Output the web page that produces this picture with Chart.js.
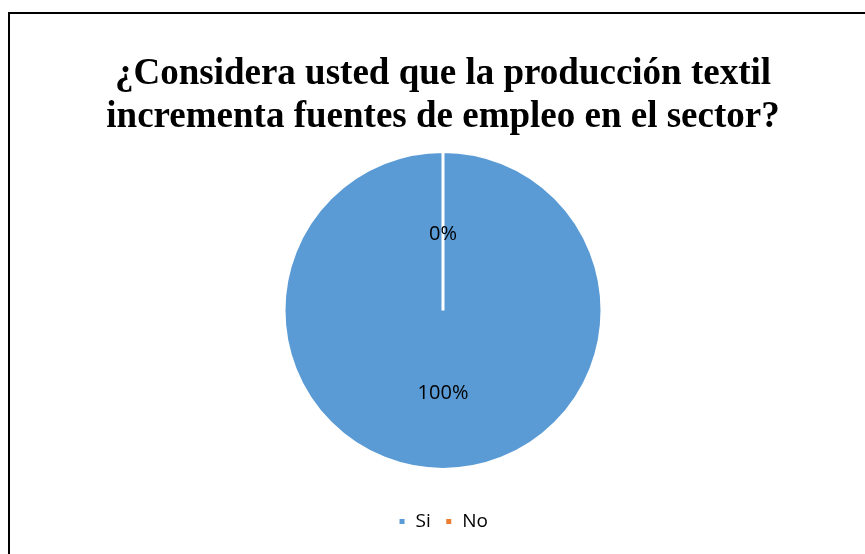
<!DOCTYPE html>
<html>
<head>
<meta charset="utf-8">
<script src="https://cdn.jsdelivr.net/npm/chart.js@4"></script>
<style>
  html, body { margin: 0; padding: 0; background: #fff; }
  #wrap { position: relative; width: 865px; height: 554px; }
</style>
</head>
<body>
<div id="wrap"><canvas id="chart" width="865" height="554"></canvas></div>
<script>
const titleLines = ['¿Considera usted que la producción textil', 'incrementa fuentes de empleo en el sector?'];
const categories = ['Si', 'No'];
const percentages = [100, 0];
const sliceColors = ['#5B9BD5', '#ED7D31'];

// black frame on the left and top edges, as in the source picture
const framePlugin = {
    id: 'frame',
    beforeDraw(chart) {
        const ctx = chart.ctx;
        ctx.save();
        ctx.fillStyle = '#fff';
        ctx.fillRect(0, 0, chart.width, chart.height);
        ctx.strokeStyle = '#000';
        ctx.lineWidth = 2;
        ctx.beginPath();
        ctx.moveTo(9, chart.height);
        ctx.lineTo(9, 13);
        ctx.lineTo(chart.width, 13);
        ctx.stroke();
        ctx.restore();
    }
};

// percentage labels at half radius of each slice
const sliceLabels = {
    id: 'sliceLabels',
    afterDatasetsDraw(chart) {
        const ctx = chart.ctx;
        const meta = chart.getDatasetMeta(0);
        ctx.save();
        ctx.font = '20px "Open Sans"';
        ctx.fillStyle = '#000';
        ctx.textAlign = 'center';
        ctx.textBaseline = 'middle';
        meta.data.forEach((arc, i) => {
            const p = arc.getProps(['x', 'y', 'startAngle', 'endAngle', 'outerRadius']);
            const mid = (p.startAngle + p.endAngle) / 2;
            const r = p.outerRadius / 2;
            ctx.fillText(percentages[i] + '%', p.x + Math.cos(mid) * r, p.y + Math.sin(mid) * r + 3);
        });
        ctx.restore();
    }
};

new Chart(document.getElementById('chart').getContext('2d'), {
    type: 'pie',
    data: {
        labels: categories,
        datasets: [{
            data: percentages,
            backgroundColor: sliceColors,
            borderColor: '#fff',
            borderWidth: 3,
            radius: 159
        }]
    },
    options: {
        responsive: false,
        animation: false,
        layout: { padding: { top: 0, bottom: 13, left: 21 } },
        plugins: {
            title: {
                display: true,
                text: titleLines,
                color: '#000',
                font: { family: 'Liberation Serif', size: 37, weight: 'bold', lineHeight: 1.16 },
                padding: { top: 53, bottom: -16 }
            },
            legend: {
                position: 'bottom',
                labels: {
                    font: { family: 'Open Sans', size: 19 },
                    color: '#000',
                    boxWidth: 8,
                    boxHeight: 8,
                    padding: 14
                }
            },
            tooltip: { enabled: false }
        }
    },
    plugins: [framePlugin, sliceLabels]
});
</script>
</body>
</html>
